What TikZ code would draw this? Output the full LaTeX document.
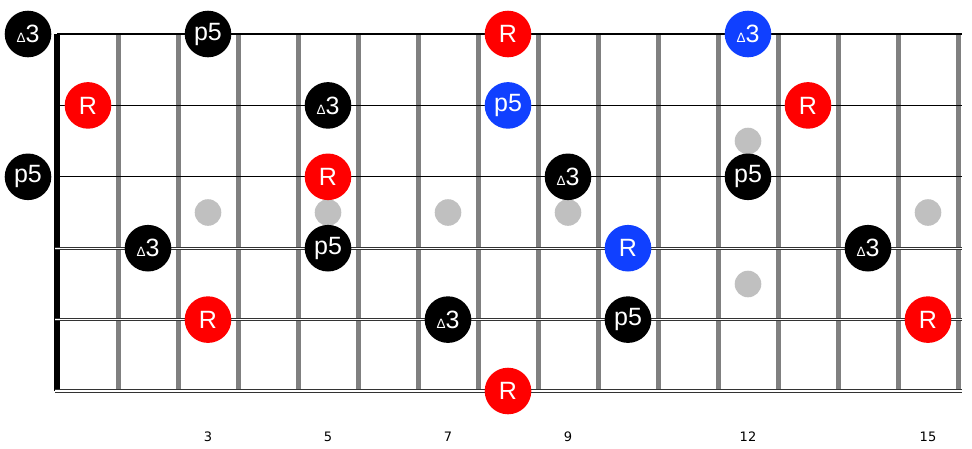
\documentclass[tikz,border=0pt]{standalone}
\usepackage{fontspec}
\setmainfont{Liberation Sans}
\newfontfamily\fretfont{DejaVu Sans}
\definecolor{rootred}{RGB}{255,0,0}
\definecolor{noteblue}{RGB}{16,64,255}
\definecolor{fretgray}{RGB}{128,128,128}
\definecolor{inlaygray}{RGB}{192,192,192}
\begin{document}
\begin{tikzpicture}[x=1pt,y=-1pt]
            \tikzset{
                note/.style={circle,minimum size=46.6pt,inner sep=0pt,text=white,font=\fontsize{25}{25}\selectfont},
                rootnote/.style={note,fill=rootred},
                bluenote/.style={note,fill=noteblue},
                blacknote/.style={note,fill=black},
                inlay/.style={circle,fill=inlaygray,minimum size=26.6pt,inner sep=0pt},
                fretno/.style={font=\fretfont\fontsize{13}{13}\selectfont},
                woundstring/.style={draw=black!80,double=white,double distance=1.4pt,line width=1pt}}
            \def\tri{{\fontsize{13.5}{13.5}\selectfont Δ}}
            \useasboundingbox (0,0) rectangle (972,448);
            % frets and nut
            \foreach \f in {1,...,15}
                \draw [fretgray,line width=5pt] (58+60*\f,34) -- (58+60*\f,391);
            \draw [line width=5.5pt] (57,34) -- (57,391);
            % strings
            \foreach \y in {34,105.4,176.8}
                \draw [line width=1.1pt] (57,\y) -- (962,\y);
            \foreach \y in {248.2,319.6,391}
                \draw [woundstring] (55,\y) -- (962,\y);
            % inlays
            \foreach \f in {3,5,7,9,15}
                \node [inlay] (dot\f) at (28+60*\f,212.5) {};
            \node [inlay] (dot12a) at (748,141) {};
            \node [inlay] (dot12b) at (748,284) {};
            \foreach \f in {3,5,7,9,12,15}
                \node [fretno] (fn\f) at (28+60*\f,437) {\f};
            % notes: string/fret/style/label
            \foreach \s/\f/\c/\t in {1/0/blacknote/\tri3, 1/3/blacknote/p5, 1/8/rootnote/R, 1/12/bluenote/\tri3,
                    2/1/rootnote/R, 2/5/blacknote/\tri3, 2/8/bluenote/p5, 2/13/rootnote/R,
                    3/0/blacknote/p5, 3/5/rootnote/R, 3/9/blacknote/\tri3, 3/12/blacknote/p5,
                    4/2/blacknote/\tri3, 4/5/blacknote/p5, 4/10/bluenote/R, 4/14/blacknote/\tri3,
                    5/3/rootnote/R, 5/7/blacknote/\tri3, 5/10/blacknote/p5, 5/15/rootnote/R,
                    6/8/rootnote/R}
                \node [\c] (n\s-\f) at ({28+60*\f},{34+71.4*(\s-1)}) {\t};
        \end{tikzpicture}
\end{document}
